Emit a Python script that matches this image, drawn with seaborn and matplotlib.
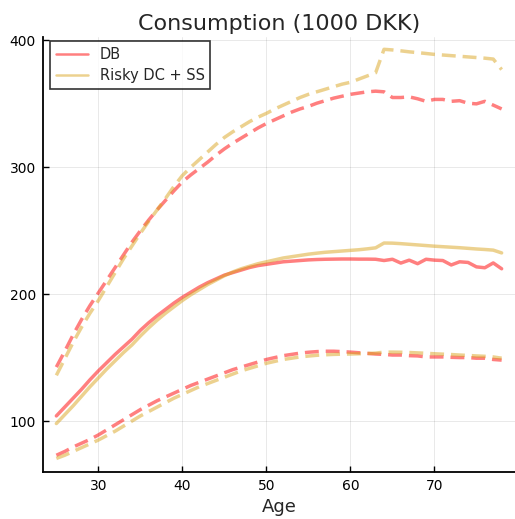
import numpy as np
import pandas as pd
import matplotlib
matplotlib.use("Agg")
import matplotlib.pyplot as plt
import seaborn as sns

ages = list(range(25, 79))

db_median = [104, 111, 118, 125, 132.5, 139.5, 146, 152.5, 158.5, 164.5,
             171.5, 177.5, 183, 188, 193, 197.5, 201.5, 205.5, 209, 212,
             215, 217, 219, 221, 222.5, 223.5, 224.5, 225.5, 226, 226.5,
             227, 227.3, 227.5, 227.6, 227.7, 227.7, 227.6, 227.6, 227.5, 226.5,
             227.5, 224.5, 226.8, 224, 227.5, 226.8, 226.5, 223, 225.5, 225,
             221.5, 220.8, 224.6, 220]
db_upper = [142.5, 155, 168, 180, 191, 201, 211, 221, 231, 241,
            250, 258.5, 266.5, 274, 281.5, 288.5, 294, 299, 304, 309.5,
            314.5, 319, 323, 327, 331, 334.5, 337.5, 340.5, 343.5, 346,
            348, 350.5, 352.5, 354.5, 356, 357.5, 358.5, 359.5, 360, 359.5,
            355, 355, 355.5, 354, 352, 353.5, 353.5, 352, 352.5, 350.5,
            350, 352, 349, 346]
db_lower = [73, 76, 79.5, 82.5, 85.5, 89, 93, 97, 101, 105,
            109, 112.5, 116, 119, 122, 125, 128, 130.5, 133, 135.5,
            138, 140.5, 142.5, 144.5, 146.5, 148.5, 150, 151.5, 152.5, 153.5,
            154.2, 154.7, 155, 155, 154.7, 154.3, 153.8, 153.3, 152.8, 152.5,
            152, 152, 151.5, 151.3, 150.5, 150.5, 150.5, 150.2, 150, 150,
            149.5, 149.5, 148.5, 148]

dc_median = [98, 105, 112, 119.5, 127, 134, 141, 147.5, 154, 160,
             167, 173.5, 179.5, 185, 190, 195, 199.5, 203.5, 207.5, 211,
             214.5, 217.5, 220, 222, 224, 225.5, 227, 228.5, 229.5, 230.5,
             231.5, 232.3, 233, 233.5, 234, 234.5, 235, 235.7, 236.5, 240.3,
             240.2, 239.8, 239.3, 238.8, 238.3, 237.8, 237.4, 237, 236.6, 236.1,
             235.6, 235.2, 234.7, 232.5]
dc_upper = [136, 149, 162, 174, 185, 195, 206, 217, 228, 238,
            248, 257.5, 266.5, 275.5, 285, 293.5, 300, 306, 312, 318,
            323.5, 328, 332, 336, 339.5, 342.5, 346, 349, 352, 355,
            357.5, 359.5, 361.5, 363.5, 365.5, 367, 369.5, 372, 374.5, 393,
            392.5, 391.8, 391, 390.4, 389.7, 389, 388.5, 388, 387.5, 387,
            386.5, 386, 385.3, 377]
dc_lower = [70.5, 73, 76, 79, 82, 85, 88.5, 92, 96, 100,
            104, 107.5, 111, 114.5, 118, 121, 124, 127, 129.5, 132,
            134.5, 137, 139.5, 141.5, 143.5, 145.5, 147, 148.5, 149.5, 150.5,
            151.2, 151.8, 152.2, 152.5, 152.7, 152.8, 153, 153.2, 153.5, 154.3,
            154.3, 154.2, 154, 153.7, 153.4, 153, 152.7, 152.4, 152, 151.7,
            151.3, 151, 150.5, 149.5]

x_ticks = [30, 40, 50, 60, 70]
y_ticks = [100, 200, 300, 400]

red = "red"
gold = "goldenrod"

sns.set_style("white")
plt.rcParams['font.family'] = ['DejaVu Sans']

fig = plt.figure(figsize=(5.15, 5.19), dpi=100)
ax = fig.add_axes([43 / 515, 1 - 472 / 519, (515 - 43) / 515, (472 - 37) / 519])

lw = 2.5
dash = (4, 2)

sns.lineplot(x=ages, y=db_median, color=red, alpha=0.5, lw=lw, label="DB", ax=ax)
sns.lineplot(x=ages, y=dc_median, color=gold, alpha=0.5, lw=lw, label="Risky DC + SS", ax=ax)
# dashed bands, no legend entry
for vals, c in [(db_upper, red), (db_lower, red), (dc_upper, gold), (dc_lower, gold)]:
    l = sns.lineplot(x=ages, y=vals, color=c, alpha=0.5, lw=lw, ax=ax)
    l.lines[-1].set_dashes(dash)

ax.set_xlim(23.41, 79.59)
ax.set_ylim(59.8, 402.7)
ax.set_xticks(x_ticks)
ax.set_yticks(y_ticks)
ax.grid(True, color="black", alpha=0.1, lw=0.6)
for s in ["top", "right"]:
    ax.spines[s].set_visible(False)
for s in ["left", "bottom"]:
    ax.spines[s].set_color("black")
    ax.spines[s].set_linewidth(1.3)
ax.tick_params(direction="in", length=4, width=1, colors="black", labelsize=10, pad=5,
               left=True, bottom=True)

ax.set_title("Consumption (1000 DKK)", fontsize=16, pad=5)
ax.set_xlabel("Age", fontsize=13, labelpad=4)

leg = ax.legend(loc="upper left", fontsize=10.5, handlelength=2.2, frameon=True,
                fancybox=False, borderpad=0.4, labelspacing=0.4, borderaxespad=0,
                bbox_to_anchor=(0.0148, 0.99))
leg.get_frame().set_edgecolor("black")
leg.get_frame().set_linewidth(1.2)
for h in leg.get_lines():
    h.set_linewidth(1.8)

fig.savefig("out.png", dpi=100)
